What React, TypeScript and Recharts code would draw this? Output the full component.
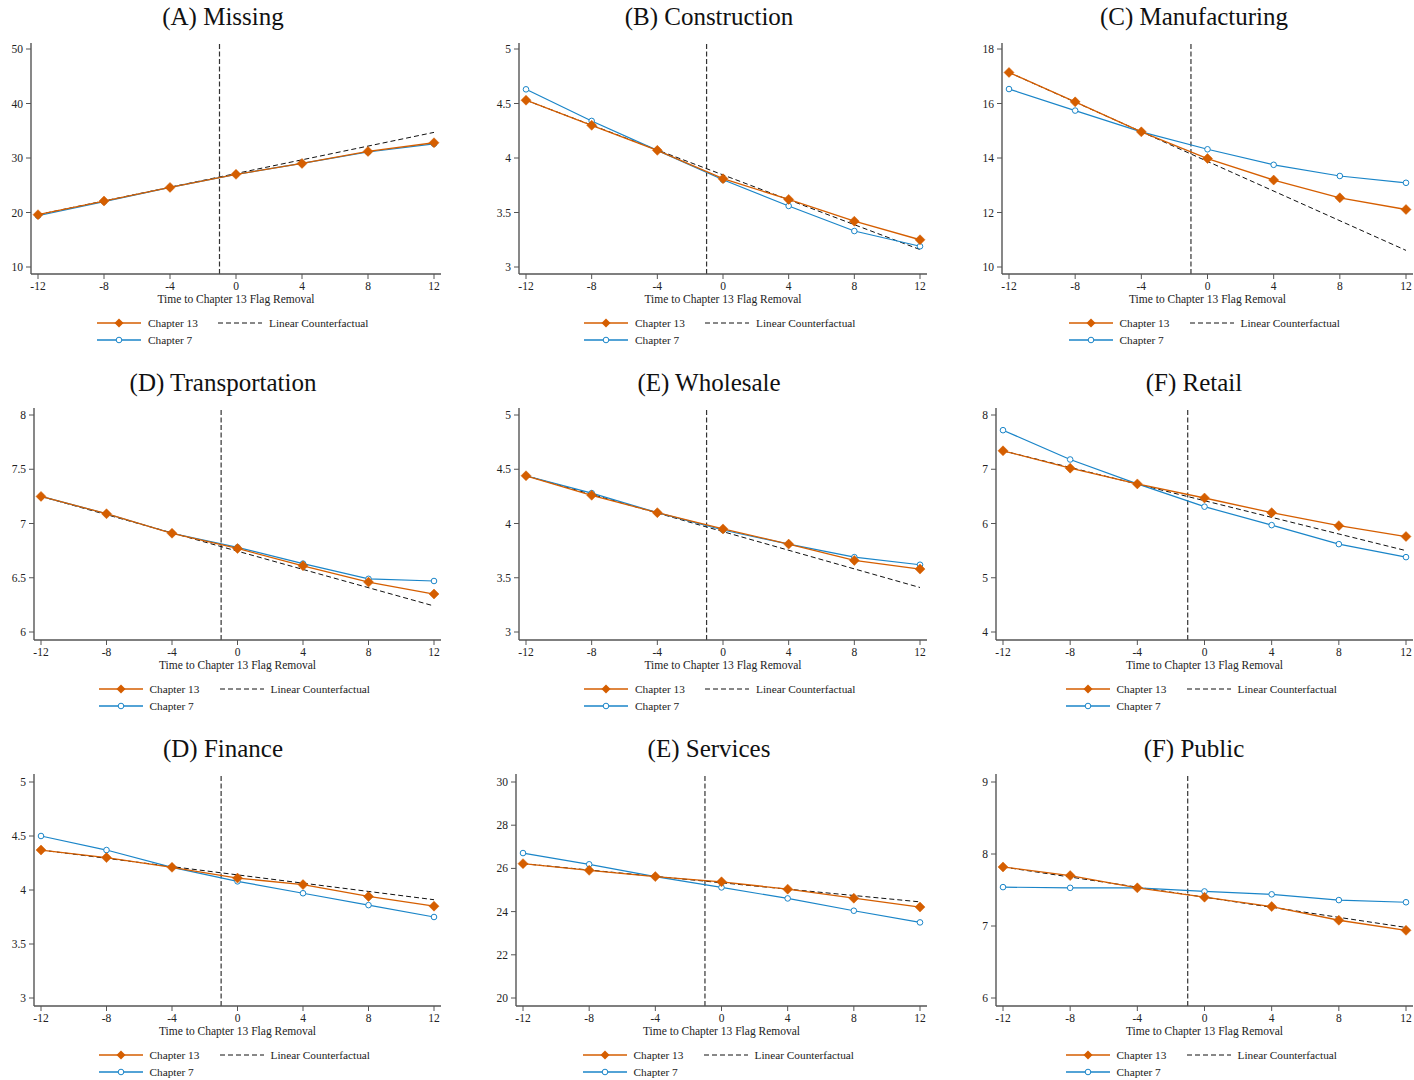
import React from "react";
import { LineChart, Line, XAxis, YAxis, ReferenceLine } from "recharts";

const FONT = '"Liberation Serif", "Times New Roman", serif';
const ORANGE = "#D55E00";
const BLUE = "#1A85C8";
const AXIS = "#555";

// event time (quarters relative to flag removal)
const PERIODS = [-12, -8, -4, 0, 4, 8, 12];
const X_TICKS = [-12, -8, -4, 0, 4, 8, 12];
const CF_ENDS = [-12, 12];

const missingCh13 = [19.6, 22.1, 24.6, 27.0, 29.0, 31.2, 32.8];
const missingCh7 = [19.4, 22.0, 24.6, 27.0, 29.0, 31.1, 32.6];
const missingCf = [19.6, 34.7];

const constructionCh13 = [4.53, 4.3, 4.07, 3.81, 3.62, 3.42, 3.25];
const constructionCh7 = [4.63, 4.34, 4.07, 3.8, 3.56, 3.33, 3.19];
const constructionCf = [4.53, 3.16];

const manufacturingCh13 = [17.14, 16.06, 14.96, 13.98, 13.19, 12.54, 12.11];
const manufacturingCh7 = [16.53, 15.74, 14.96, 14.32, 13.75, 13.34, 13.09];
const manufacturingCf = [17.14, 10.61];

const transportCh13 = [7.25, 7.09, 6.91, 6.77, 6.61, 6.46, 6.35];
const transportCh7 = [7.25, 7.09, 6.91, 6.78, 6.63, 6.49, 6.47];
const transportCf = [7.25, 6.24];

const wholesaleCh13 = [4.44, 4.26, 4.1, 3.95, 3.81, 3.66, 3.58];
const wholesaleCh7 = [4.44, 4.28, 4.1, 3.94, 3.81, 3.69, 3.62];
const wholesaleCf = [4.44, 3.41];

const retailCh13 = [7.34, 7.02, 6.73, 6.47, 6.2, 5.96, 5.76];
const retailCh7 = [7.72, 7.18, 6.73, 6.31, 5.97, 5.62, 5.38];
const retailCf = [7.34, 5.5];

const financeCh13 = [4.37, 4.3, 4.21, 4.11, 4.05, 3.94, 3.85];
const financeCh7 = [4.5, 4.37, 4.21, 4.08, 3.97, 3.86, 3.75];
const financeCf = [4.37, 3.91];

const servicesCh13 = [26.22, 25.91, 25.62, 25.38, 25.04, 24.62, 24.21];
const servicesCh7 = [26.71, 26.19, 25.62, 25.12, 24.61, 24.04, 23.5];
const servicesCf = [26.22, 24.45];

const publicCh13 = [7.82, 7.7, 7.53, 7.4, 7.27, 7.08, 6.94];
const publicCh7 = [7.54, 7.53, 7.53, 7.48, 7.44, 7.36, 7.33];
const publicCf = [7.82, 6.98];

// layout of the 3x3 grid
const COLS = [
  { start: 0, width: 470, titleX: 223 },
  { start: 470, width: 470, titleX: 709 },
  { start: 940, width: 474, titleX: 1194 },
];
const ROWS = [
  { top: 43, bottom: 274, padTop: 6, padBottom: 7, titleY: 17 },
  { top: 408, bottom: 640, padTop: 7, padBottom: 8, titleY: 383 },
  { top: 774, bottom: 1006, padTop: 8, padBottom: 8, titleY: 749 },
];

const PANELS = [
  { title: "(A) Missing", ch13: missingCh13, ch7: missingCh7, cf: missingCf, yTicks: [10, 20, 30, 40, 50], row: 0, col: 0, left: 31, right: 441 },
  { title: "(B) Construction", ch13: constructionCh13, ch7: constructionCh7, cf: constructionCf, yTicks: [3, 3.5, 4, 4.5, 5], row: 0, col: 1, left: 519, right: 927 },
  { title: "(C) Manufacturing", ch13: manufacturingCh13, ch7: manufacturingCh7, cf: manufacturingCf, yTicks: [10, 12, 14, 16, 18], row: 0, col: 2, left: 1002, right: 1413 },
  { title: "(D) Transportation", ch13: transportCh13, ch7: transportCh7, cf: transportCf, yTicks: [6, 6.5, 7, 7.5, 8], row: 1, col: 0, left: 34, right: 441 },
  { title: "(E) Wholesale", ch13: wholesaleCh13, ch7: wholesaleCh7, cf: wholesaleCf, yTicks: [3, 3.5, 4, 4.5, 5], row: 1, col: 1, left: 519, right: 927 },
  { title: "(F) Retail", ch13: retailCh13, ch7: retailCh7, cf: retailCf, yTicks: [4, 5, 6, 7, 8], row: 1, col: 2, left: 996, right: 1413 },
  { title: "(D) Finance", ch13: financeCh13, ch7: financeCh7, cf: financeCf, yTicks: [3, 3.5, 4, 4.5, 5], row: 2, col: 0, left: 34, right: 441 },
  { title: "(E) Services", ch13: servicesCh13, ch7: servicesCh7, cf: servicesCf, yTicks: [20, 22, 24, 26, 28, 30], row: 2, col: 1, left: 516, right: 927 },
  { title: "(F) Public", ch13: publicCh13, ch7: publicCh7, cf: publicCf, yTicks: [6, 7, 8, 9], row: 2, col: 2, left: 996, right: 1413 },
];

const Diamond = (props: any) => {
  const { cx, cy } = props;
  if (cx == null || cy == null) return null;
  return (
    <path
      d={`M${cx},${cy - 5} L${cx + 5},${cy} L${cx},${cy + 5} L${cx - 5},${cy} Z`}
      fill={ORANGE}
      stroke={ORANGE}
      strokeWidth={0.5}
    />
  );
};

const tickStyle = { fontSize: 11.5, fontFamily: FONT, fill: "#222" };

function LegendRow({ x, y, icon, label }: any) {
  return (
    <div
      style={{
        position: "absolute",
        left: x,
        top: y - 7,
        height: 14,
        display: "flex",
        alignItems: "center",
        fontFamily: FONT,
        fontSize: 11.3,
        color: "#222",
        whiteSpace: "nowrap",
      }}
    >
      <svg width={44} height={12} style={{ marginRight: 7 }}>
        {icon === "ch13" && (
          <>
            <line x1={0} y1={6} x2={44} y2={6} stroke={ORANGE} strokeWidth={1.3} />
            <path d="M22,1.5 L26.5,6 L22,10.5 L17.5,6 Z" fill={ORANGE} />
          </>
        )}
        {icon === "ch7" && (
          <>
            <line x1={0} y1={6} x2={44} y2={6} stroke={BLUE} strokeWidth={1.3} />
            <circle cx={22} cy={6} r={2.8} fill="#fff" stroke={BLUE} strokeWidth={1} />
          </>
        )}
        {icon === "cf" && (
          <line x1={0} y1={6} x2={44} y2={6} stroke="#111" strokeWidth={1} strokeDasharray="5 3" />
        )}
      </svg>
      <span>{label}</span>
    </div>
  );
}

function Panel({ p }: any) {
  const col = COLS[p.col];
  const row = ROWS[p.row];
  const chartTop = row.top - 10;
  const height = row.bottom - chartTop + 40;
  const rows = PERIODS.map((t, i) => ({ t, ch13: p.ch13[i], ch7: p.ch7[i] }));
  const cfRows = CF_ENDS.map((t, i) => ({ t, cf: p.cf[i] }));
  const yDomain = [p.yTicks[0], p.yTicks[p.yTicks.length - 1]];
  const cx = (p.left + p.right) / 2;

  return (
    <>
      <div
        style={{
          position: "absolute",
          left: col.titleX - 150,
          width: 300,
          top: row.titleY - 15,
          height: 30,
          lineHeight: "30px",
          textAlign: "center",
          fontFamily: FONT,
          fontSize: 25,
          color: "#111",
        }}
      >
        {p.title}
      </div>
      <div style={{ position: "absolute", left: col.start, top: chartTop }}>
        <LineChart
          width={col.width}
          height={height}
          data={rows}
          margin={{ top: 10, right: col.start + col.width - p.right, bottom: 0, left: 0 }}
        >
          <XAxis
            dataKey="t"
            type="number"
            domain={[-12, 12]}
            ticks={X_TICKS}
            padding={{ left: 7, right: 7 }}
            height={40}
            tickSize={5}
            tickMargin={3}
            axisLine={{ stroke: AXIS, strokeWidth: 1.4 }}
            tickLine={{ stroke: AXIS }}
            tick={tickStyle}
          />
          <YAxis
            type="number"
            domain={yDomain}
            ticks={p.yTicks}
            width={p.left - col.start}
            padding={{ top: row.padTop, bottom: row.padBottom }}
            tickSize={5}
            tickMargin={3}
            axisLine={{ stroke: AXIS, strokeWidth: 1.4 }}
            tickLine={{ stroke: AXIS }}
            tick={tickStyle}
          />
          <ReferenceLine x={-1} stroke="#333" strokeWidth={1.2} strokeDasharray="5 2.5" />
          <Line
            data={cfRows}
            dataKey="cf"
            stroke="#111"
            strokeWidth={1}
            strokeDasharray="5 3"
            dot={false}
            isAnimationActive={false}
          />
          <Line
            dataKey="ch7"
            stroke={BLUE}
            strokeWidth={1.2}
            dot={{ r: 2.8, fill: "#fff", stroke: BLUE, strokeWidth: 1 }}
            isAnimationActive={false}
          />
          <Line
            dataKey="ch13"
            stroke={ORANGE}
            strokeWidth={1.3}
            dot={<Diamond />}
            isAnimationActive={false}
          />
        </LineChart>
      </div>
      <div
        style={{
          position: "absolute",
          left: cx - 150,
          width: 300,
          top: row.bottom + 25 - 7,
          height: 14,
          lineHeight: "14px",
          textAlign: "center",
          fontFamily: FONT,
          fontSize: 11.5,
          color: "#222",
        }}
      >
        Time to Chapter 13 Flag Removal
      </div>
      <LegendRow x={cx - 139} y={row.bottom + 49} icon="ch13" label="Chapter 13" />
      <LegendRow x={cx - 139} y={row.bottom + 66} icon="ch7" label="Chapter 7" />
      <LegendRow x={cx - 18} y={row.bottom + 49} icon="cf" label="Linear Counterfactual" />
    </>
  );
}

export default function App() {
  return (
    <div
      style={{
        position: "absolute",
        left: 0,
        top: 0,
        width: 1414,
        height: 1080,
        background: "#fff",
        overflow: "hidden",
      }}
    >
      {PANELS.map((p) => (
        <Panel key={p.title + p.row} p={p} />
      ))}
    </div>
  );
}
